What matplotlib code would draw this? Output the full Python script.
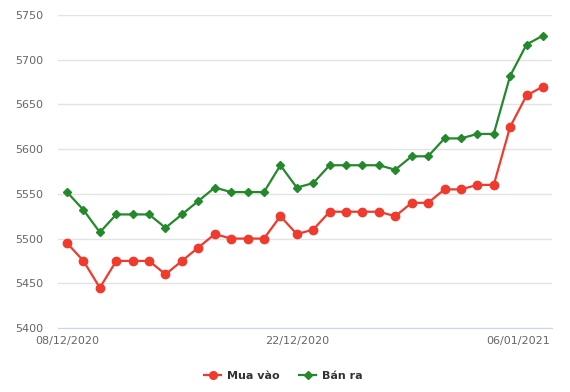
import matplotlib
matplotlib.use("Agg")
import matplotlib.pyplot as plt
from matplotlib.lines import Line2D
from matplotlib.transforms import ScaledTranslation

dates = ["08/12/2020", "09/12/2020", "10/12/2020", "11/12/2020", "12/12/2020",
         "13/12/2020", "14/12/2020", "15/12/2020", "16/12/2020", "17/12/2020",
         "18/12/2020", "19/12/2020", "20/12/2020", "21/12/2020", "22/12/2020",
         "23/12/2020", "24/12/2020", "25/12/2020", "26/12/2020", "27/12/2020",
         "28/12/2020", "29/12/2020", "30/12/2020", "31/12/2020", "01/01/2021",
         "02/01/2021", "03/01/2021", "04/01/2021", "05/01/2021", "06/01/2021"]
mua_vao = [5495, 5475, 5445, 5475, 5475, 5475, 5460, 5475, 5490, 5505,
           5500, 5500, 5500, 5525, 5505, 5510, 5530, 5530, 5530, 5530,
           5525, 5540, 5540, 5555, 5555, 5560, 5560, 5625, 5660, 5670]
ban_ra = [5552, 5532, 5507, 5527, 5527, 5527, 5512, 5527, 5542, 5557,
          5552, 5552, 5552, 5582, 5557, 5562, 5582, 5582, 5582, 5582,
          5577, 5592, 5592, 5612, 5612, 5617, 5617, 5682, 5717, 5727]
tick_idx = [0, 14, 29]
y_ticks = [5400, 5450, 5500, 5550, 5600, 5650, 5700, 5750]

red = "#ef3a2d"
green = "#24892a"

fig = plt.figure(figsize=(5.7, 3.92), dpi=100)
ax = fig.add_axes([58/570, (392-328)/392, (552-58)/570, (328-15)/392])

x = list(range(len(dates)))
ax.plot(x, mua_vao, color=red, lw=1.6, marker="o", ms=6, zorder=3)
ax.plot(x, ban_ra, color=green, lw=1.6, marker="D", ms=4.5, zorder=3)

ax.set_xlim(-0.55, len(dates) - 1 + 0.55)
ax.set_ylim(5400, 5750)
ax.set_yticks(y_ticks)
ax.set_xticks(tick_idx)
ax.set_xticklabels([dates[i] for i in tick_idx])
ax.grid(axis="y", color="#e3e3e3", lw=1)
ax.set_axisbelow(True)
for s in ["top", "right", "left"]:
    ax.spines[s].set_visible(False)
ax.spines["bottom"].set_color("#ccd6eb")
ax.tick_params(axis="both", length=0, labelsize=8, colors="#666666")
ax.tick_params(axis="y", pad=10.5)
ax.tick_params(axis="x", pad=6)

last = ax.get_xticklabels()[-1]
last.set_ha("right")
last.set_transform(last.get_transform() + ScaledTranslation(7/100, 0, fig.dpi_scale_trans))

handles = [Line2D([], [], color=red, lw=1.6, marker="o", ms=5.5),
           Line2D([], [], color=green, lw=1.6, marker="D", ms=4)]
fig.legend(handles, ["Mua vào", "Bán ra"], loc="center", bbox_to_anchor=(0.497, 1 - 376/392),
           ncol=2, frameon=False, prop={"weight": "bold", "size": 8},
           labelcolor="#333333", handlelength=1.5, columnspacing=1.8, handletextpad=0.5)

fig.savefig("out.png", dpi=100)
